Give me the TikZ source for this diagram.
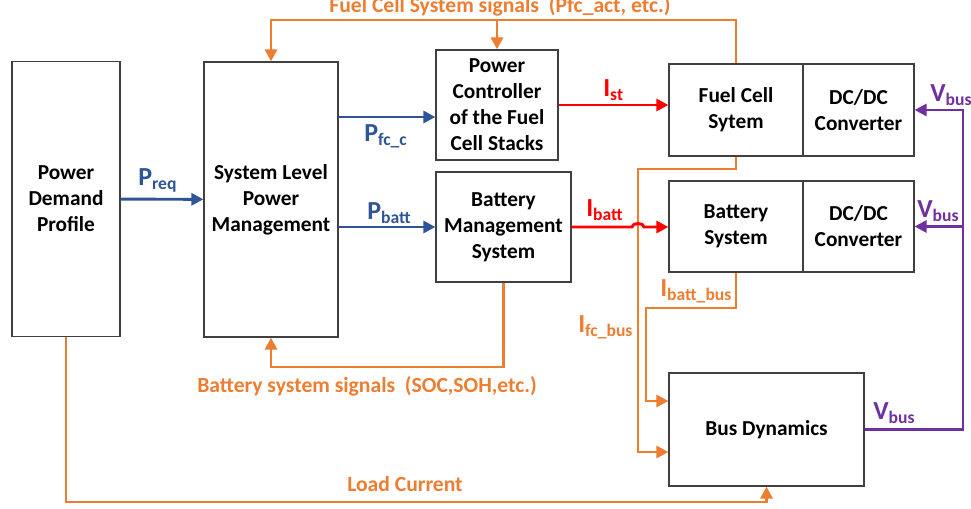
\documentclass[tikz,border=0pt]{standalone}
\usepackage{fontspec}
\setmainfont{Carlito}
\usetikzlibrary{arrows.meta}
\definecolor{cblue}{HTML}{2F5597}
\definecolor{corange}{HTML}{ED7D31}
\definecolor{cred}{HTML}{FF0000}
\definecolor{cpurple}{HTML}{7030A0}
\newcommand\lbl[2]{#1\raisebox{-2.5pt}{\fontsize{13.2}{14}\selectfont #2}}
\begin{document}
\begin{tikzpicture}[x=0.75pt,y=-0.75pt,
  box/.style n args={2}{draw=black!75, line width=0.9pt, minimum width=#1*0.75pt, minimum height=#2*0.75pt, inner sep=0pt, align=center, font=\fontsize{16}{19.5}\selectfont\bfseries},
  conn/.style={line width=2.2pt},
  tip/.style={-{Triangle[length=9pt,width=9pt]}},
  lab/.style={font=\fontsize{19.5}{20}\selectfont\bfseries, inner sep=0pt, anchor=base west},
  sig/.style={font=\fontsize{16.2}{18}\selectfont\bfseries, inner sep=0pt, text=corange}]
\useasboundingbox (0,0) rectangle (971,509);
% boxes
\node[box={108}{275}] (pdp) at (66,199) {Power\\Demand\\Profile};
\node[box={134}{275}] (slpm) at (271,199.5) {System Level\\Power\\Management};
\node[box={122}{110}] (pc) at (497,105) {Power\\Controller\\of the Fuel\\Cell Stacks};
\node[box={135}{110}] (bms) at (503.5,227) {Battery\\Management\\System};
\node[box={134}{92}] (fcs) at (736,110) {Fuel Cell\\Sytem};
\node[box={111}{92}] (dc1) at (858.5,110) {DC/DC\\Converter};
\node[box={134}{91}] (bs) at (736,226.5) {Battery\\System};
\node[box={111}{91}] (dc2) at (858.5,226.5) {DC/DC\\Converter};
\node[box={195}{113}] (bd) at (766.5,429.5) {Bus Dynamics};
% helper coordinates
\coordinate (pfcy) at (0,117);
\coordinate (topy) at (0,20);
\coordinate (bsy) at (0,367);
\coordinate (lcy) at (0,502);
\coordinate (vx) at (963,0);
\coordinate (fcx) at (638,0);
\coordinate (fcy) at (0,169);
\coordinate (fcb) at (0,452);
\coordinate (btx) at (646,0);
\coordinate (bty) at (0,308);
\coordinate (btb) at (0,401);
\coordinate (hopA) at (632,227);
\coordinate (hopB) at (644,227);
% blue
\draw[conn,cblue,tip] (pdp) -- (slpm);
\draw[conn,cblue,tip] (slpm.east |- pfcy) -- (pc.west |- pfcy);
\draw[conn,cblue,tip] (slpm.east |- bms) -- (bms.west);
% orange signals
\draw[conn,corange,tip] (fcs.north) -- (fcs.north |- topy) -- (slpm.north |- topy) -- (slpm.north);
\draw[conn,corange,tip] (pc.north |- topy) -- (pc.north);
\draw[conn,corange,tip] (bms.south) -- (bms.south |- bsy) -- (slpm.south |- bsy) -- (slpm.south);
\draw[conn,corange,tip] (pdp.south) -- (pdp.south |- lcy) -- (bd.south |- lcy) -- (bd.south);
\draw[conn,corange,tip] (fcs.south) -- (fcs.south |- fcy) -- (fcx |- fcy) -- (fcx |- fcb) -- (bd.west |- fcb);
\draw[conn,corange,tip] (bs.south) -- (bs.south |- bty) -- (btx |- bty) -- (btx |- btb) -- (bd.west |- btb);
% red
\draw[conn,cred,tip] (pc.east) -- (fcs.west |- pc.east);
\draw[conn,cred,tip] (bms.east) -- (hopA) to[out=90,in=90] (hopB) -- (bs.west |- bms.east);
% purple
\draw[conn,cpurple,tip] (bd.east) -- (bd.east -| vx) -- (dc1.east -| vx) -- (dc1.east);
\draw[conn,cpurple,tip] (dc2.east -| vx) -- (dc2.east);
% labels
\node[lab,text=cblue] (lpreq) at (138,186) {\lbl{P}{req}};
\node[lab,text=cblue] (lpfc) at (364,142) {\lbl{P}{fc\_c}};
\node[lab,text=cblue] (lpb) at (367,220) {\lbl{P}{batt}};
\node[lab,text=cred] (list) at (603,97) {\lbl{I}{st}};
\node[lab,text=cred] (lib) at (586,217) {\lbl{I}{batt}};
\node[lab,text=corange] (libb) at (660,297) {\lbl{I}{batt\_bus}};
\node[lab,text=corange] (lifc) at (578,333) {\lbl{I}{fc\_bus}};
\node[lab,text=cpurple] (lv1) at (930,102) {\lbl{V}{bus}};
\node[lab,text=cpurple] (lv2) at (917,218) {\lbl{V}{bus}};
\node[lab,text=cpurple] (lv3) at (873,420) {\lbl{V}{bus}};
\node[sig,anchor=base] (lfcs) at (500,13) {Fuel Cell System signals \ (Pfc\_act, etc.)};
\node[sig,anchor=base west] (lbss) at (197,393) {Battery system signals \ (SOC,SOH,etc.)};
\node[sig,anchor=base] (llc) at (405,491) {Load Current};
\end{tikzpicture}
\end{document}
